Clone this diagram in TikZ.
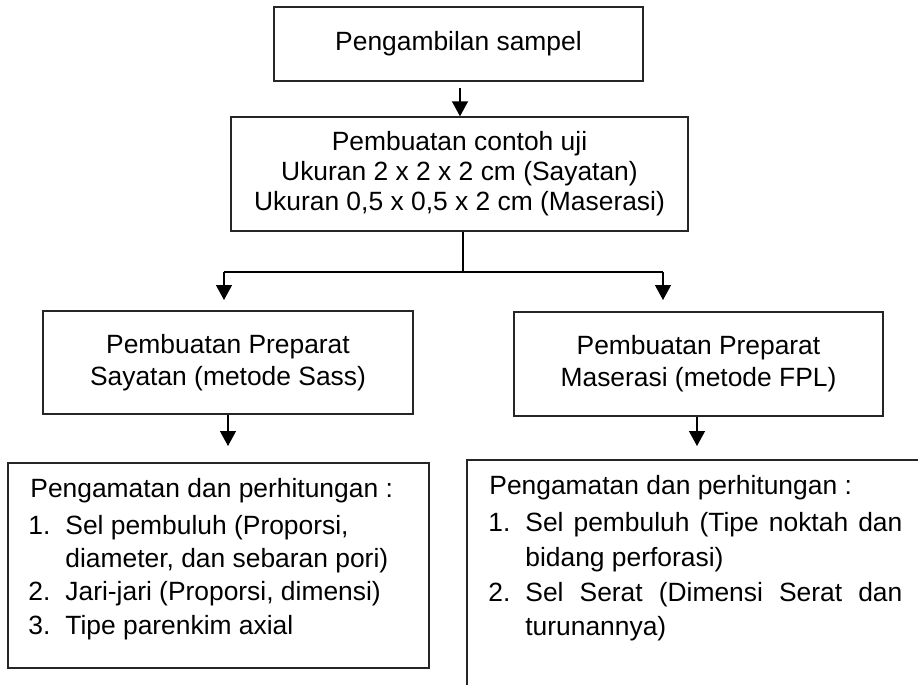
\documentclass[tikz,border=0pt]{standalone}
\usepackage{fontspec}
\setmainfont{Liberation Sans}
\usetikzlibrary{arrows.meta}
\begin{document}
\begin{tikzpicture}[x=0.5pt,y=-0.5pt,
  box/.style={draw=black!85, line width=0.7pt, inner sep=0pt, align=center, font=\fontsize{13.2}{16}\selectfont},
  txt/.style={anchor=base west, inner sep=0pt, font=\fontsize{13.2}{16}\selectfont},
  arr/.style={-{Triangle[width=8pt,length=7.5pt]}, line width=0.7pt}]
\useasboundingbox (0,0) rectangle (918,685);
\clip (0,0) rectangle (918,685);
\fill[white] (0,0) rectangle (918,685);
% boxes
\node[box, minimum width=184.5pt, minimum height=37pt] (top) at (458.5,44) {Pengambilan sampel};
\node[box, minimum width=228.5pt, minimum height=57pt, font=\fontsize{13.2}{15}\selectfont] (mid) at (459.5,174)
  {Pembuatan contoh uji\\Ukuran 2 x 2 x 2 cm (Sayatan)\\Ukuran 0,5 x 0,5 x 2 cm (Maserasi)};
\node[box, minimum width=185pt, minimum height=51.5pt] (left) at (228,362.5)
  {Pembuatan Preparat\\Sayatan (metode Sass)};
\node[box, minimum width=184.5pt, minimum height=52pt] (right) at (698.5,364)
  {Pembuatan Preparat\\Maserasi (metode FPL)};
\node[box, minimum width=210.5pt, minimum height=102.5pt] (botL) at (218.5,565.5) {};
\node[box, minimum width=239pt, minimum height=130pt] (botR) at (706,590) {};
% connectors
\coordinate (a1) at (460,88);
\draw[arr] (a1) -- (a1 |- mid.north);
\coordinate (j) at (463,272);
\coordinate (jl) at (224,272);
\coordinate (jr) at (663,272);
\coordinate (tl) at (224,300);
\coordinate (tr) at (663,300);
\draw[line width=0.7pt] (mid.south -| j) -- (j);
\draw[line width=0.7pt] (jl) -- (jr);
\draw[arr] (jl) -- (tl);
\draw[arr] (jr) -- (tr);
\coordinate (bl) at (228,446);
\coordinate (br) at (697,446);
\draw[arr] (left.south -| bl) -- (bl);
\draw[arr] (right.south -| br) -- (br);
% bottom-left text
\node[txt] (l0) at (30,497) {Pengamatan dan perhitungan :};
\node[txt] (l1n) at (28,534) {1.};
\node[txt] (l1) at (65,534) {Sel pembuluh (Proporsi,};
\node[txt] (l1b) at (65,567) {diameter, dan sebaran pori)};
\node[txt] (l2n) at (28,600) {2.};
\node[txt] (l2) at (65,600) {Jari-jari (Proporsi, dimensi)};
\node[txt] (l3n) at (28,634) {3.};
\node[txt] (l3) at (65,634) {Tipe parenkim axial};
% bottom-right text
\node[txt] (r0) at (489,494) {Pengamatan dan perhitungan :};
\node[txt] (r1n) at (488,531) {1.};
\node[txt] (r1) at (525,531) {\makebox[188.5pt][s]{Sel pembuluh (Tipe noktah dan}};
\node[txt] (r1b) at (525,566) {bidang perforasi)};
\node[txt] (r2n) at (488,601) {2.};
\node[txt] (r2) at (525,601) {\makebox[188.5pt][s]{Sel Serat (Dimensi Serat dan}};
\node[txt] (r2b) at (525,635) {turunannya)};
\end{tikzpicture}
\end{document}
